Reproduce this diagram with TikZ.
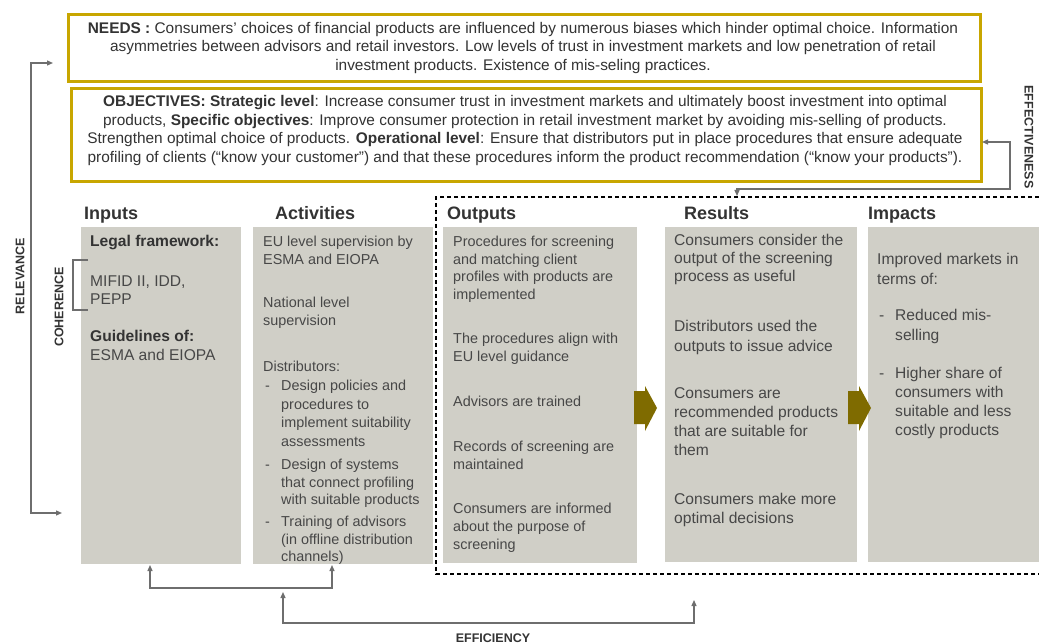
\documentclass[tikz,border=0pt]{standalone}
\usepackage{fontspec}
\setmainfont{Liberation Sans}
\usetikzlibrary{arrows.meta}

\definecolor{boxgray}{HTML}{D0CFC7}
\definecolor{goldline}{HTML}{C8A600}
\definecolor{arrowolive}{HTML}{7F6B00}
\definecolor{textgray}{HTML}{474747}
\definecolor{textdark}{HTML}{333333}
\definecolor{linegray}{HTML}{6E6E6E}

\newcommand{\dashitem}{\makebox[16pt][l]{-}}
\newcommand{\itemgap}{\hspace*{16pt}}

\tikzset{
  goldbox/.style={draw=goldline, line width=2.6pt, fill=white, inner sep=0pt, anchor=north west},
  graybox/.style={fill=boxgray, inner sep=0pt, anchor=north west},
  toptext/.style={align=center, inner sep=0pt, text=textdark, font=\fontsize{15.4}{18.4}\selectfont},
  coltitle/.style={anchor=base west, inner sep=0pt, text=textdark, font=\fontsize{18}{20}\selectfont\bfseries},
  para/.style={anchor=north west, align=left, inner sep=0pt, text=textgray, font=\fontsize{14.4}{17.5}\selectfont},
  inpara/.style={para, font=\fontsize{15.6}{17.5}\selectfont},
  respara/.style={para, font=\fontsize{15.6}{19.3}\selectfont},
  sidelabel/.style={inner sep=0pt, text=textdark, font=\fontsize{12.5}{14}\selectfont\bfseries},
  feedback/.style={draw=linegray, line width=1.3pt, {Triangle[length=6pt,width=5pt]}-{Triangle[length=6pt,width=5pt]}},
  bracketline/.style={draw=linegray, line width=1.2pt},
  bigarrow/.style={fill=arrowolive},
}

\begin{document}
\begin{tikzpicture}[x=1pt,y=-1pt]
	\useasboundingbox (0,0) rectangle (1039,644);
	%draw needs and objectives
	\node[goldbox, minimum width=912pt, minimum height=67pt] (needs) at (67,13) {};
	\node[toptext] (needstxt) at (523,48) {\textbf{NEEDS :} Consumers’ choices of financial products are influenced by numerous biases which hinder optimal choice. Information\\
		asymmetries between advisors and retail investors. Low levels of trust in investment markets and low penetration of retail\\
		investment products. Existence of mis-seling practices.};
	\node[goldbox, minimum width=910pt, minimum height=93pt] (obj) at (70,87) {};
	\node[toptext] (objtxt) at (525,130.5) {\textbf{OBJECTIVES: Strategic level}: Increase consumer trust in investment markets and ultimately boost investment into optimal\\
		products, \textbf{Specific objectives}: Improve consumer protection in retail investment market by avoiding mis-selling of products.\\
		Strengthen optimal choice of products. \textbf{Operational level}: Ensure that distributors put in place procedures that ensure adequate\\
		profiling of clients (“know your customer”) and that these procedures inform the product recommendation (“know your products”).};
	
	%draw columns
	\node[graybox, minimum width=160pt, minimum height=337pt] (inp) at (81,227) {};
	\node[graybox, minimum width=180pt, minimum height=337pt] (act) at (253,227) {};
	\node[graybox, minimum width=194pt, minimum height=336pt] (out) at (443,227) {};
	\node[graybox, minimum width=192pt, minimum height=335pt] (res) at (665,227) {};
	\node[graybox, minimum width=171pt, minimum height=335pt] (imp) at (868,227) {};
	\node[coltitle] (inptitle) at (84,220) {Inputs};
	\node[coltitle] (acttitle) at (275,220) {Activities};
	\node[coltitle] (outtitle) at (447,220) {Outputs};
	\node[coltitle] (restitle) at (684,220) {Results};
	\node[coltitle] (imptitle) at (868,220) {Impacts};
	
	%draw inputs
	\node[inpara, text=textdark] (inp1) at (90,235) {\textbf{Legal framework:}};
	\node[inpara] (inp2) at (90,276) {MIFID II, IDD,\\PEPP};
	\node[inpara] (inp3) at (90,330) {\textbf{\color{textdark}Guidelines of:}\\[1.5pt]ESMA and EIOPA};
	
	%draw activities
	\node[para] (act1) at (263,236) {EU level supervision by\\ESMA and EIOPA};
	\node[para] (act2) at (263,297) {National level\\supervision};
	\node[para] (act3) at (263,361) {Distributors:};
	\node[para, font=\fontsize{14.4}{18.6}\selectfont] (act4) at (265,380) {\dashitem Design policies and\\\itemgap procedures to\\\itemgap implement suitability\\\itemgap assessments};
	\node[para] (act5) at (265,459) {\dashitem Design of systems\\\itemgap that connect profiling\\\itemgap with suitable products};
	\node[para] (act6) at (265,516) {\dashitem Training of advisors\\\itemgap (in offline distribution\\\itemgap channels)};
	
	%draw outputs
	\node[para] (out1) at (453,236) {Procedures for screening\\and matching client\\profiles with products are\\implemented};
	\node[para] (out2) at (453,333) {The procedures align with\\EU level guidance};
	\node[para] (out3) at (453,396) {Advisors are trained};
	\node[para] (out4) at (453,441) {Records of screening are\\maintained};
	\node[para, font=\fontsize{14.4}{18}\selectfont] (out5) at (453,503) {Consumers are informed\\about the purpose of\\screening};
	
	%draw results
	\node[respara, font=\fontsize{15.6}{18}\selectfont] (res1) at (674,234) {Consumers consider the\\output of the screening\\process as useful};
	\node[respara, font=\fontsize{15.6}{20}\selectfont] (res2) at (674,320) {Distributors used the\\outputs to issue advice};
	\node[respara] (res3) at (674,387) {Consumers are\\recommended products\\that are suitable for\\them};
	\node[respara] (res4) at (674,493) {Consumers make more\\optimal decisions};
	
	%draw impacts
	\node[respara, font=\fontsize{15.6}{20}\selectfont] (imp1) at (877,253) {Improved markets in\\terms of:};
	\node[respara, font=\fontsize{15.6}{20}\selectfont] (imp2) at (879,309) {\dashitem Reduced mis-\\\itemgap selling};
	\node[respara, font=\fontsize{15.6}{19}\selectfont] (imp3) at (879,367) {\dashitem Higher share of\\\itemgap consumers with\\\itemgap suitable and less\\\itemgap costly products};
	
	%draw block arrows
	\fill[bigarrow] (634,391) -- (645,391) -- (645,386) -- (657,408) -- (645,431) -- (645,424) -- (634,424) -- cycle;
	\fill[bigarrow] (848,391) -- (859,391) -- (859,386) -- (871,408) -- (859,431) -- (859,424) -- (848,424) -- cycle;
	
	%draw dashed frame
	\draw[line width=1.3pt, dash pattern=on 4pt off 3pt] (1039,197) -- (436,197) -- (436,574) -- (1039,574);
	
	%draw relevance
	\coordinate (relin) at (53,63);
	\coordinate (relout) at (62,513);
	\draw[feedback] (relin) -- (31,63) -- (31,513) -- (relout);
	\node[sidelabel, rotate=90] (relevance) at (20,276) {RELEVANCE};
	
	%draw coherence
	\coordinate (cohtop) at (88,260);
	\coordinate (cohbot) at (88,310);
	\draw[bracketline] (cohtop) -- (73,260) -- (73,310) -- (cohbot);
	\node[sidelabel, rotate=90] (coherence) at (59,307) {COHERENCE};
	
	%draw effectiveness
	\coordinate (effin) at (982,142);
	\coordinate (effout) at (737,196);
	\draw[feedback] (effin) -- (1010,142) -- (1010,189) -- (737,189) -- (effout);
	\node[sidelabel, rotate=-90] (effectiveness) at (1029,137) {EFFECTIVENESS};
	
	%draw efficiency
	\coordinate (effia) at (150,565);
	\coordinate (effib) at (332,565);
	\coordinate (effic) at (283,592);
	\coordinate (effid) at (694,600);
	\draw[feedback] (effia) -- (150,588) -- (332,588) -- (effib);
	\draw[feedback] (effic) -- (283,623) -- (694,623) -- (effid);
	\node[sidelabel] (efficiency) at (493,638) {EFFICIENCY};
	
\end{tikzpicture}
\end{document}
